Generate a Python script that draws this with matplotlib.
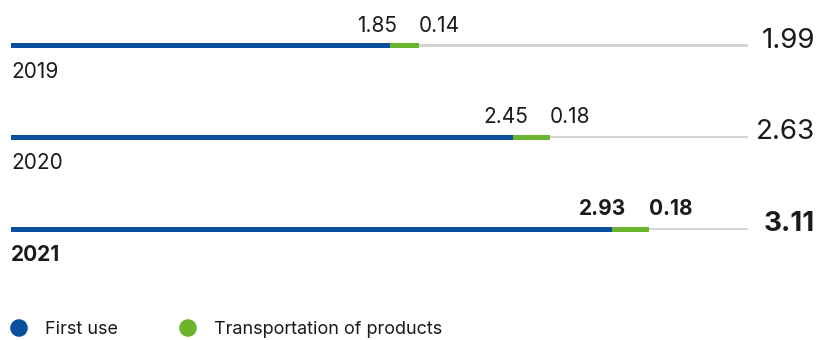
import matplotlib.pyplot as plt

plt.rcParams['font.family'] = ['Inter', 'DejaVu Sans']

# data
years = ['2019', '2020', '2021']
first_use = [1.85, 2.45, 2.93]
transport = [0.14, 0.18, 0.18]
totals = [1.99, 2.63, 3.11]
series_names = ['First use', 'Transportation of products']

blue = '#0b4f9f'
green = '#6ab42e'
grey = '#d4d4d4'
ink = '#1a1a1a'

fig = plt.figure(figsize=(8.19, 3.4), dpi=100)
ax = fig.add_axes([0, 0, 1, 1])
# x in data units (about 205 px per unit, origin at 11 px), y in pixels from the top
px = 1 / 205
ax.set_xlim(-11 * px, 808 * px)
ax.set_ylim(340, 0)
ax.axis('off')

track_end = 737 * px
rows_y = [45.5, 137, 229]

for i, y in enumerate(rows_y):
    bold = 'bold' if i == len(years) - 1 else 'normal'
    ax.barh(y, track_end, height=2.5, color=grey, left=0)
    ax.barh(y, first_use[i], height=5, color=blue, left=0)
    ax.barh(y, transport[i], height=5, color=green, left=first_use[i])
    end = first_use[i] + transport[i]

    ax.text(0, y + 32, years[i], fontsize=15, fontweight=bold,
            ha='left', va='baseline', color=ink)
    ax.annotate(f'{first_use[i]:.2f}', (end, y - 14), xytext=(-16, 0),
                textcoords='offset points', fontsize=15, fontweight=bold,
                ha='right', va='baseline', color=ink)
    ax.annotate(f'{transport[i]:.2f}', (end, y - 14), xytext=(0, 0),
                textcoords='offset points', fontsize=15, fontweight=bold,
                ha='left', va='baseline', color=ink)
    ax.text(804 * px, y + 2, f'{totals[i]:.2f}', fontsize=20,
            fontweight=bold, ha='right', va='baseline', color=ink)

# legend
leg_x = [8 * px, 177 * px]
for x, name, c in zip(leg_x, series_names, [blue, green]):
    ax.scatter([x], [328], s=160, color=c, edgecolors='none')
    ax.text(x + 26 * px, 334, name, fontsize=13, ha='left',
            va='baseline', color=ink)

fig.savefig('out.png', dpi=100)
